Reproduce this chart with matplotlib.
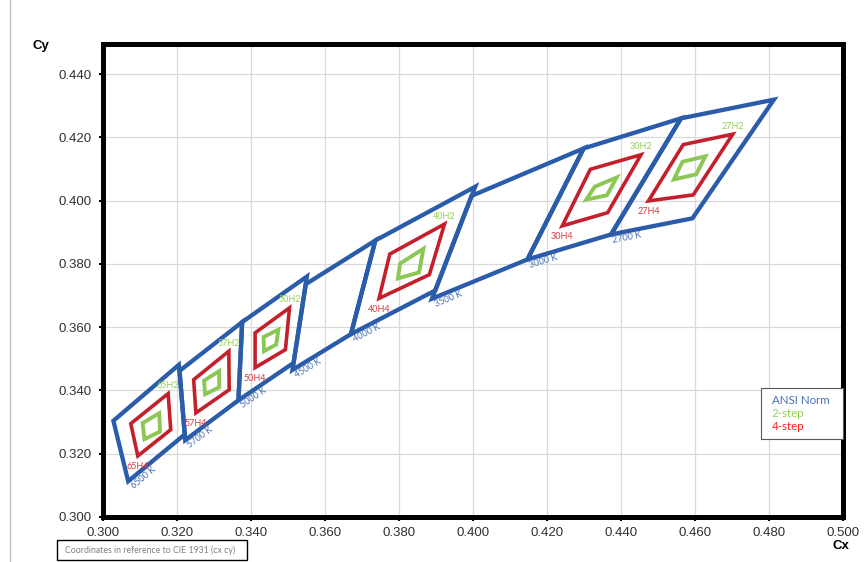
import matplotlib
matplotlib.use('Agg')
import matplotlib.pyplot as plt
from matplotlib.lines import Line2D
from matplotlib.patches import Polygon, Rectangle
import numpy as np

# ---------------- data ----------------
cct_labels = ['6500 K', '5700 K', '5000 K', '4500 K', '4000 K', '3500 K', '3000 K', '2700 K']
# ANSI quadrangle corners: [top-right, top-left, bottom-left, bottom-right]
ansi_x = [
    [0.3205, 0.3028, 0.3068, 0.3221],
    [0.3376, 0.3207, 0.3222, 0.3366],
    [0.3551, 0.3376, 0.3366, 0.3515],
    [0.3736, 0.3548, 0.3512, 0.3670],
    [0.4006, 0.3736, 0.3670, 0.3898],
    [0.4299, 0.3996, 0.3889, 0.4147],
    [0.4562, 0.4299, 0.4147, 0.4373],
    [0.4813, 0.4562, 0.4373, 0.4593],
]
ansi_y = [
    [0.3481, 0.3304, 0.3113, 0.3261],
    [0.3616, 0.3462, 0.3243, 0.3369],
    [0.3760, 0.3616, 0.3369, 0.3487],
    [0.3874, 0.3736, 0.3465, 0.3578],
    [0.4044, 0.3874, 0.3578, 0.3716],
    [0.4165, 0.4015, 0.3690, 0.3814],
    [0.4260, 0.4165, 0.3814, 0.3893],
    [0.4319, 0.4260, 0.3893, 0.3944],
]

bin_names = ['65', '57', '50', '40', '30', '27']
# 4-step bins (red): [top-right, top-left, bottom-left, bottom-right]
step4_x = [
    [0.3176, 0.3075, 0.3094, 0.3183],
    [0.3340, 0.3245, 0.3251, 0.3341],
    [0.3504, 0.3411, 0.3411, 0.3493],
    [0.3923, 0.3775, 0.3746, 0.3882],
    [0.4454, 0.4317, 0.4241, 0.4364],
    [0.4702, 0.4568, 0.4474, 0.4595],
]
step4_y = [
    [0.3390, 0.3295, 0.3193, 0.3276],
    [0.3524, 0.3434, 0.3329, 0.3402],
    [0.3661, 0.3582, 0.3472, 0.3529],
    [0.3926, 0.3831, 0.3691, 0.3766],
    [0.4145, 0.4099, 0.3920, 0.3962],
    [0.4210, 0.4177, 0.3999, 0.4018],
]
# 2-step bins (green)
step2_x = [
    [0.3152, 0.3107, 0.3112, 0.3154],
    [0.3314, 0.3273, 0.3276, 0.3314],
    [0.3474, 0.3434, 0.3435, 0.3468],
    [0.3866, 0.3803, 0.3797, 0.3854],
    [0.4388, 0.4329, 0.4306, 0.4362],
    [0.4628, 0.4566, 0.4543, 0.4603],
]
step2_y = [
    [0.3328, 0.3297, 0.3246, 0.3270],
    [0.3461, 0.3431, 0.3388, 0.3410],
    [0.3592, 0.3569, 0.3524, 0.3545],
    [0.3848, 0.3801, 0.3754, 0.3773],
    [0.4073, 0.4044, 0.4003, 0.4017],
    [0.4140, 0.4123, 0.4067, 0.4083],
]

x_ticks = [0.300, 0.320, 0.340, 0.360, 0.380, 0.400, 0.420, 0.440, 0.460, 0.480, 0.500]
y_ticks = [0.300, 0.320, 0.340, 0.360, 0.380, 0.400, 0.420, 0.440]
legend_labels = ['ANSI Norm', '2-step', '4-step']

# ---------------- style ----------------
C_BLUE = '#2A5CAA'
C_RED = '#C4202C'
C_GREEN = '#8CC756'
T_BLUE = '#4470B8'
T_RED = '#D63A42'
T_GREEN = '#92D050'
LBL_FONT = ['Lato', 'DejaVu Sans']
AX_FONT = ['Liberation Sans', 'DejaVu Sans']

fig = plt.figure(figsize=(8.65, 5.62), dpi=100)
ax = fig.add_axes([0.1191, 0.0801, 0.8555, 0.8416])
ax.set_xlim(x_ticks[0], x_ticks[-1])
ax.set_ylim(y_ticks[0], 0.4495)

ax.set_xticks(x_ticks)
ax.set_yticks(y_ticks)
ax.set_xticklabels(['%.3f' % v for v in x_ticks], family=AX_FONT)
ax.set_yticklabels(['%.3f' % v for v in y_ticks], family=AX_FONT)
ax.tick_params(axis='both', labelsize=9.5, labelcolor='#303030', color='black',
               length=3, width=1.5, direction='out')
ax.tick_params(axis='x', pad=4.5)
ax.tick_params(axis='y', pad=5)
ax.grid(True, color='#D9D9D9', lw=0.9)
ax.set_axisbelow(True)
for sp in ax.spines.values():
    sp.set_linewidth(3.6)
    sp.set_color('black')

# ANSI quadrangles
for xs, ys in zip(ansi_x, ansi_y):
    ax.add_patch(Polygon(np.column_stack([xs, ys]), closed=True, fill=False,
                         edgecolor=C_BLUE, lw=3.1, joinstyle='miter', zorder=4))
# 4-step
for xs, ys in zip(step4_x, step4_y):
    ax.add_patch(Polygon(np.column_stack([xs, ys]), closed=True, fill=False,
                         edgecolor=C_RED, lw=2.6, joinstyle='miter', zorder=3))
# 2-step
for xs, ys in zip(step2_x, step2_y):
    ax.add_patch(Polygon(np.column_stack([xs, ys]), closed=True, fill=False,
                         edgecolor=C_GREEN, lw=2.8, joinstyle='miter', zorder=3))

# labels for bins
for name, xs4, ys4 in zip(bin_names, step4_x, step4_y):
    ax.annotate(name + 'H4', (xs4[2], ys4[2]), xytext=(0, -11), textcoords='offset pixels',
                ha='center', va='center', fontsize=6.5, color=T_RED, family=LBL_FONT, zorder=6)
    ax.annotate(name + 'H2', (xs4[0], ys4[0]), xytext=(0, 8), textcoords='offset pixels',
                ha='center', va='center', fontsize=6.5, color=T_GREEN, family=LBL_FONT, zorder=6)

# CCT labels along bottom edges
for lab, xs, ys in zip(cct_labels, ansi_x, ansi_y):
    p0 = ax.transData.transform((xs[2], ys[2]))
    p1 = ax.transData.transform((xs[3], ys[3]))
    ang = np.degrees(np.arctan2(p1[1] - p0[1], p1[0] - p0[0]))
    ax.annotate(lab, (xs[2], ys[2]), xytext=(1, -2), textcoords='offset pixels',
                ha='left', va='top', rotation=ang, rotation_mode='anchor',
                fontsize=6.5, color=T_BLUE, family=LBL_FONT, zorder=6)

# legend (text only)
handles = [Line2D([], [], color=c, lw=0) for c in (T_BLUE, T_GREEN, '#FF2020')]
leg = ax.legend(handles, legend_labels, loc='upper left',
                bbox_to_anchor=(0.889, 0.163, 0.111, 0.11), mode='expand',
                handlelength=0, handletextpad=0, borderpad=0.6, labelspacing=0.2,
                frameon=True, fancybox=False, framealpha=1, edgecolor='#595959',
                prop={'family': LBL_FONT, 'size': 8.3}, borderaxespad=0)
leg.get_frame().set_linewidth(0.8)
for t, c in zip(leg.get_texts(), (T_BLUE, T_GREEN, '#FF2020')):
    t.set_color(c)
    t.set_x(4)

# axis titles
fig.text(41 / 865, 1 - 46 / 562, 'Cy', ha='center', va='center', fontsize=9.5,
         fontweight='bold', family=AX_FONT)
fig.text(840.5 / 865, 1 - 546 / 562, 'Cx', ha='center', va='center', fontsize=9.5,
         fontweight='bold', family=AX_FONT)

# footnote box
fig.patches.append(Rectangle((57 / 865, 2 / 562), 190 / 865, 20 / 562, transform=fig.transFigure,
                             fill=False, edgecolor='black', lw=1.0))
fig.text(65 / 865, 1 - 550 / 562, 'Coordinates in reference to CIE 1931 (cx cy)',
         ha='left', va='center', fontsize=6.3, color='#808080', family=LBL_FONT)

# left border line of the chart area
fig.lines.append(Line2D([10 / 865, 10 / 865], [0, 1], transform=fig.transFigure,
                        color='#BFBFBF', lw=1.0))

fig.savefig('out.png', dpi=100)
